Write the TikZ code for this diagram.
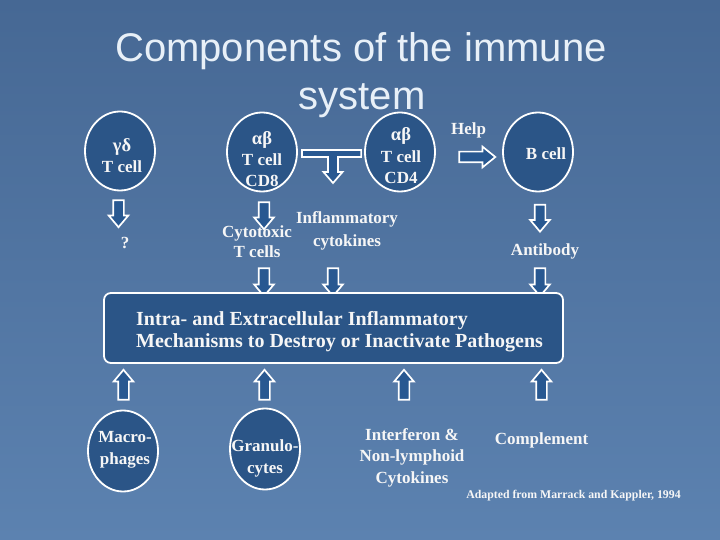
\documentclass[tikz,border=0pt]{standalone}
\usepackage{fontspec}
\setmainfont{Liberation Serif}
\newfontfamily\titlefont{Liberation Sans}
\usetikzlibrary{shapes.arrows,shapes.geometric,calc}
\definecolor{bgtop}{RGB}{70,104,148}
\definecolor{bgbot}{RGB}{92,130,176}
\definecolor{cellblue}{RGB}{43,85,135}
\definecolor{arrowblue}{RGB}{40,88,145}
\definecolor{txt}{RGB}{246,246,246}
\definecolor{titletxt}{RGB}{232,240,248}
\newcommand{\grk}[1]{{\fontsize{18.5}{21.5}\selectfont #1}}
\begin{document}
\begin{tikzpicture}[x=1pt,y=-1pt,
  cell/.style={ellipse, draw=white, line width=1.8pt, fill=cellblue,
    minimum width=70pt, minimum height=79pt, inner sep=0pt},
  lbl/.style={text=txt, font=\bfseries\fontsize{17}{21.5}\selectfont,
    align=center, inner sep=0pt, anchor=base},
  barrow/.style={single arrow, draw=white, line width=1.7pt, fill=arrowblue,
    inner sep=4.5pt, single arrow head extend=4.5pt, single arrow tip angle=80,
    minimum height=27pt},
  bigbox/.style={draw=white, line width=1.8pt, fill=cellblue, rounded corners=7pt}
]
\useasboundingbox (0,0) rectangle (720,540);
\shade[top color=bgtop, bottom color=bgbot] (0,0) rectangle (720,540);

% title
\node[text=titletxt, font=\titlefont\fontsize{40}{48}\selectfont, anchor=base, inner sep=0pt] (title1) at (361,62) {Components of the immune};
\node[text=titletxt, font=\titlefont\fontsize{40}{48}\selectfont, anchor=base, inner sep=0pt] (title2) at (362,110) {system};

% top cells
\node[cell] (gd) at (120,151) {};
\node[cell] (cd8) at (262,152) {};
\node[cell] (cd4) at (400,152) {};
\node[cell] (bc) at (538,152) {};
% base anchor = baseline of the last line
\node[lbl] (gdt) at (122,173) {\grk{γδ}\\T cell};
\node[lbl] (cd8t) at (262,187) {\grk{αβ}\\T cell\\CD8};
\node[lbl] (cd4t) at (401,184) {\grk{αβ}\\T cell\\CD4};
\node[lbl] (bct) at (546,160) {B cell};

% bar between CD8 and CD4 with branch arrow
\coordinate (barL) at ($(cd8.east)+(4,-2)$);
\coordinate (barR) at ($(cd4.west)+(-3,-2)$);
\draw[line width=1.7pt, draw=white, fill=arrowblue]
  (barL) -- (barR) -- ++(0,7) -- (338,157) -- (338,172) -- (342.5,172) -- (333,183)
  -- (323.5,172) -- (328,172) -- (328,157) -- ($(barL)+(0,7)$) -- cycle;

% Help arrow
\node[text=txt, font=\bfseries\fontsize{17}{20}\selectfont, anchor=base, inner sep=0pt] (help) at (468.5,135) {Help};
\node[barrow, minimum height=36pt, single arrow head extend=5pt, single arrow tip angle=78] (ha) at (474,157) {};

% down arrows row 1
\node[barrow, rotate=-90] (a1) at (118.5,210.5) {};
\node[barrow, rotate=-90] (a2) at (264,212.5) {};
\node[barrow, rotate=-90] (a3) at (540,215) {};

% middle labels
\node[lbl] (q) at (125,248) {?};
\node[lbl] (infl) at (347,224) {Inflammatory};
\node[lbl] (cyto) at (257,237) {Cytotoxic};
\node[lbl] (cytk) at (347,247) {cytokines};
\node[lbl] (tcells) at (257,257) {T cells};
\node[lbl] (ab) at (545,255) {Antibody};

% down arrows row 2
\node[barrow, rotate=-90, minimum height=28pt] (a4) at (264,279) {};
\node[barrow, rotate=-90, minimum height=28pt] (a5) at (333,279) {};
\node[barrow, rotate=-90, minimum height=28pt] (a6) at (540,279) {};

% big box
\draw[bigbox] (104,293) rectangle (563,363);
\node[text=txt, font=\bfseries\fontsize{20}{22}\selectfont, align=left, anchor=base west, inner sep=0pt] (boxt) at (136,347)
  {Intra- and Extracellular Inflammatory\\Mechanisms to Destroy or Inactivate Pathogens};

% up arrows
\node[barrow, rotate=90, minimum height=30pt] (u1) at (123.5,388) {};
\node[barrow, rotate=90, minimum height=30pt] (u2) at (264.5,388) {};
\node[barrow, rotate=90, minimum height=30pt] (u3) at (404,388) {};
\node[barrow, rotate=90, minimum height=30pt] (u4) at (541.5,388) {};

% bottom cells
\node[cell, minimum height=81pt] (mac) at (123,451) {};
\node[cell, minimum height=81pt] (gran) at (265,449) {};
\node[lbl] (mact) at (125,464) {Macro-\\phages};
\node[lbl] (grant) at (265,473) {Granulo-\\cytes};
\node[lbl] (ifn) at (412,483) {Interferon \&\\Non-lymphoid\\Cytokines};
\node[lbl] (comp) at (541.5,444) {Complement};
\node[text=txt, font=\bfseries\fontsize{11.8}{14}\selectfont, anchor=base, inner sep=0pt] (src) at (573.5,498) {Adapted from Marrack and Kappler, 1994};
\end{tikzpicture}
\end{document}
